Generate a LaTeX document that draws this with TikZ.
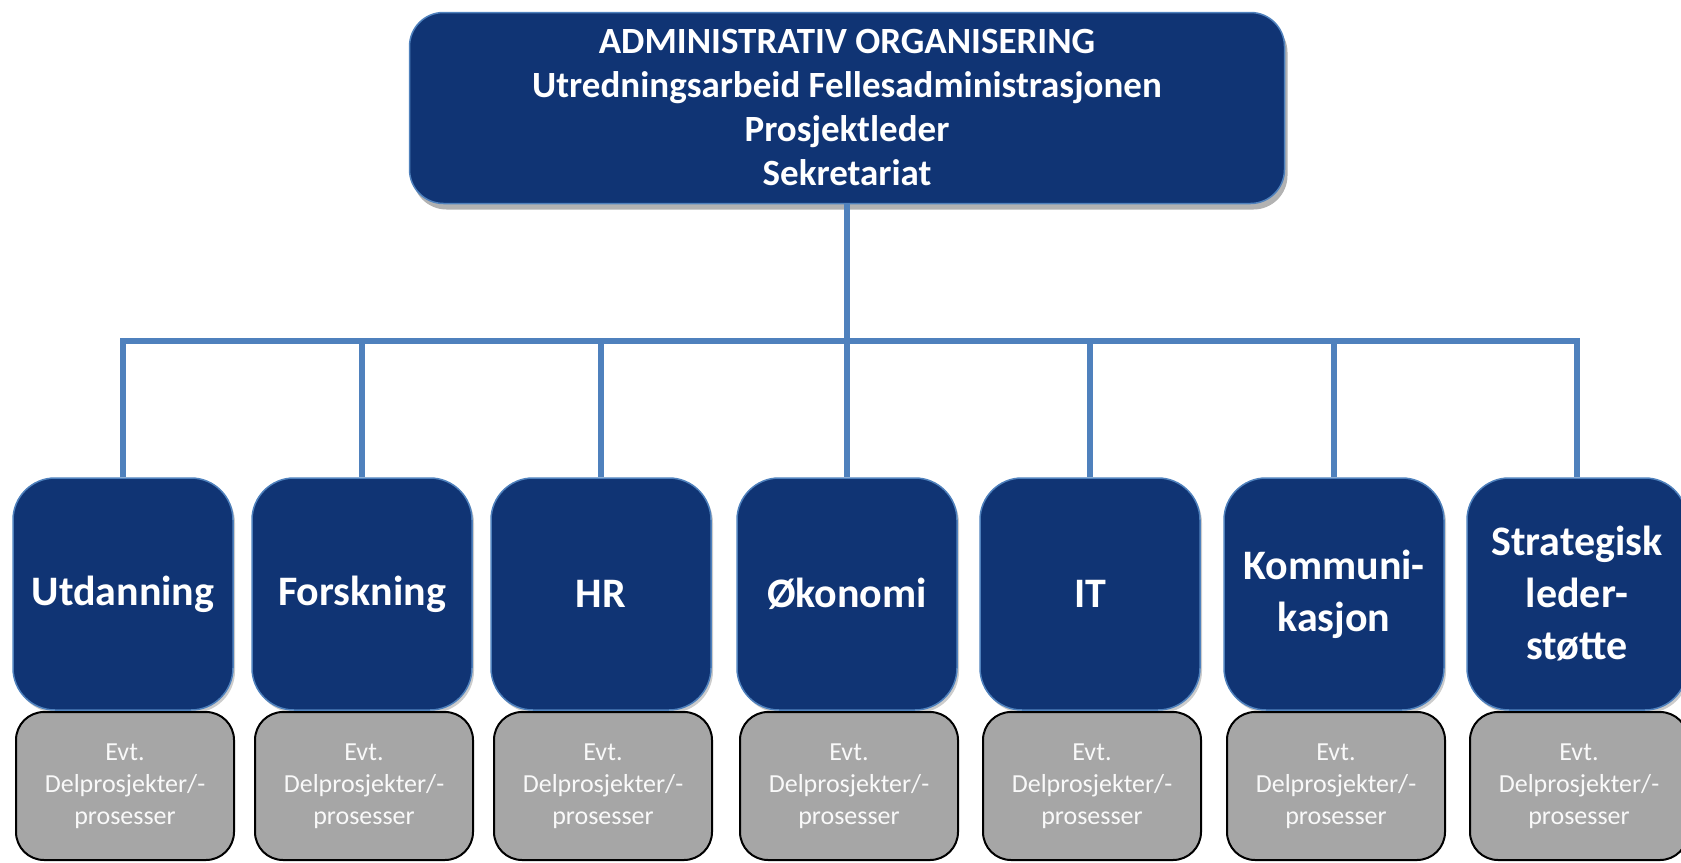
\documentclass[tikz,border=0pt]{standalone}
\usepackage{fontspec}
\setmainfont{Carlito}
\usetikzlibrary{shadows}

\definecolor{navy}{RGB}{16,52,116}
\definecolor{linkblue}{RGB}{79,129,189}
\definecolor{subgray}{RGB}{166,166,166}

\tikzset{
  topbox/.style={draw=linkblue, line width=1.5pt, fill=navy, rounded corners=34pt,
      minimum width=875pt, minimum height=191pt, align=center, text=white,
      font=\bfseries\fontsize{37}{44}\selectfont,
      drop shadow={shadow xshift=3pt, shadow yshift=-6pt, opacity=.3, fill=black}},
  unitbox/.style={draw=linkblue, line width=1.5pt, fill=navy, rounded corners=42pt,
      minimum width=220pt, minimum height=232pt, align=center, text=white,
      font=\bfseries\fontsize{42}{52}\selectfont,
      drop shadow={shadow xshift=2pt, shadow yshift=-3pt, opacity=.2, fill=black}},
  subbox/.style={draw=black, line width=2pt, fill=subgray, rounded corners=28pt,
      minimum width=218pt, minimum height=148pt, align=center, text=white!95!gray,
      font=\fontsize{26}{32}\selectfont},
  link/.style={draw=linkblue, line width=5.5pt}
}

\begin{document}
\begin{tikzpicture}[x=1pt,y=-1pt]
  \useasboundingbox (0,0) rectangle (1681,862);

  % head
  \node[topbox] (adm) at (847,108) {ADMINISTRATIV ORGANISERING\\Utredningsarbeid Fellesadministrasjonen\\Prosjektleder\\Sekretariat};

  \coordinate (bus) at (847,341);

  % units
  \foreach \n/\x/\txt in {utd/123/Utdanning, fors/362/Forskning, hr/601/HR, oko/847/Økonomi, it/1090/IT, kom/1334/{Kommuni-\\kasjon}, strat/1577/{Strategisk\\leder-\\støtte}} {
      \node[unitbox] (\n) at (\x,594) {\txt};
      \node[subbox] (\n-sub) at (\x+2,786) {Evt.\\Delprosjekter/-\\prosesser};
    }

  % links
  \draw[link] (adm.south) -- (bus);
  \draw[link] (utd.north) -- (utd.north |- bus) -- (strat.north |- bus) -- (strat.north);
  \foreach \n in {fors,hr,oko,it,kom} {
      \draw[link] (bus -| \n.north) -- (\n.north);
    }
\end{tikzpicture}
\end{document}
